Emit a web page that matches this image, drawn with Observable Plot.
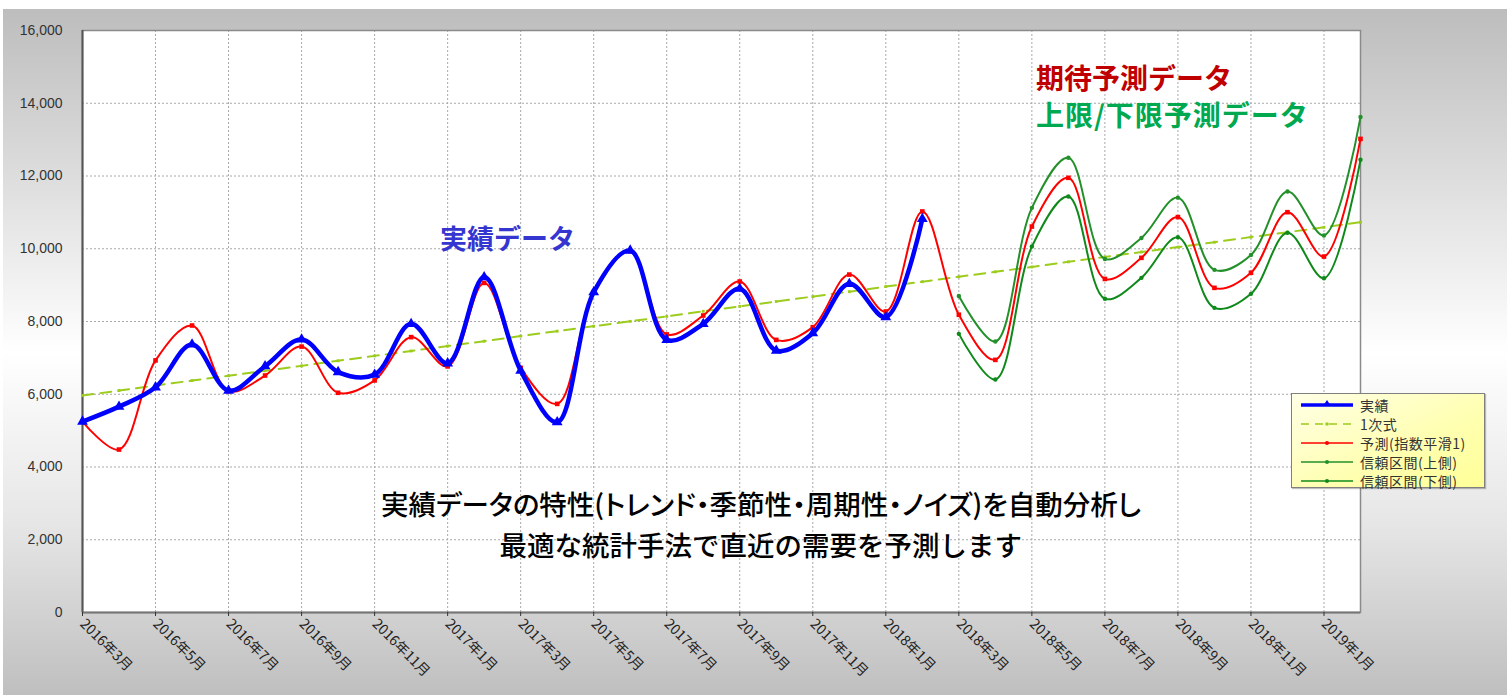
<!DOCTYPE html>
<html>
<head>
<meta charset="utf-8">
<script src="https://cdn.jsdelivr.net/npm/d3@7"></script>
<script src="https://cdn.jsdelivr.net/npm/@observablehq/plot@0.6"></script>
<style>
  body { margin:0; background:#fff; width:1507px; height:695px; overflow:hidden; }
  #wrap { position:absolute; left:3px; top:9px; width:1504px; height:686px;
          background: linear-gradient(to bottom, #bdbdbd 0%, #f4f4f4 42%, #ffffff 50%, #e6e6e6 75%, #bfbfbf 100%); }
  .ann { position:absolute; font-family:"Noto Sans CJK JP", sans-serif; white-space:nowrap; line-height:1; }
  #legend { position:absolute; left:1288px; top:384px; width:194px; height:95px; box-sizing:border-box;
            border:1px solid #808080; background:linear-gradient(to bottom right, #ffffe6 0%, #ffffb0 60%, #ffff98 100%);
            box-shadow:1px 1px 1px rgba(0,0,0,0.25); font-family:"Noto Sans CJK JP", sans-serif; font-size:14px; color:#333; }
  #legend .row { position:absolute; left:0; height:19px; display:flex; align-items:center; }
  #legend svg { margin-left:9px; margin-right:7px; }
  #legend span { letter-spacing:0.5px; }
</style>
</head>
<body>
<div id="wrap"></div>
<script>
// ---- data ----
const months = ["2016年3月","2016年4月","2016年5月","2016年6月","2016年7月","2016年8月","2016年9月","2016年10月","2016年11月","2016年12月",
  "2017年1月","2017年2月","2017年3月","2017年4月","2017年5月","2017年6月","2017年7月","2017年8月","2017年9月","2017年10月","2017年11月","2017年12月",
  "2018年1月","2018年2月","2018年3月","2018年4月","2018年5月","2018年6月","2018年7月","2018年8月","2018年9月","2018年10月","2018年11月","2018年12月",
  "2019年1月","2019年2月"];
const xTickLabels = ["2016年3月","2016年5月","2016年7月","2016年9月","2016年11月","2017年1月","2017年3月","2017年5月","2017年7月",
  "2017年9月","2017年11月","2018年1月","2018年3月","2018年5月","2018年7月","2018年9月","2018年11月","2019年1月"];
const yTicks = [0,2000,4000,6000,8000,10000,12000,14000,16000];

const actual = [5250,5660,6190,7370,6100,6770,7505,6610,6540,7935,6850,9220,6650,5230,8805,9950,7495,7935,8900,7200,7680,9035,8120,10820];
const trend = [5965,6100,6240,6375,6510,6645,6780,6920,7055,7190,7325,7460,7600,7735,7870,8005,8140,8280,8415,8550,8685,8820,8960,9095,
  9230,9365,9500,9640,9775,9910,10045,10180,10320,10455,10590,10730];
const forecast = [5250,4480,6930,7890,6085,6515,7310,6040,6380,7570,6765,9060,6725,5735,8805,9935,7645,8165,9100,7495,7845,9290,8275,11025,
  8185,6945,10610,11950,9170,9750,10870,8925,9340,11005,9785,13020];
const upperMonths = ["2018年3月","2018年4月","2018年5月","2018年6月","2018年7月","2018年8月","2018年9月","2018年10月","2018年11月","2018年12月","2019年1月","2019年2月"];
const upper = [8700,7450,11125,12500,9720,10295,11405,9420,9830,11575,10365,13620];
const lower = [7660,6405,10060,11435,8625,9200,10315,8375,8760,10440,9190,12445];

const legendItems = ["実績","1次式","予測(指数平滑1)","信頼区間(上側)","信頼区間(下側)"];

// ---- tables ----
const actualT = actual.map((v,i)=>({m:months[i], v}));
const trendT = trend.map((v,i)=>({m:months[i], v}));
const forecastT = forecast.map((v,i)=>({m:months[i], v}));
const upperT = upper.map((v,i)=>({m:upperMonths[i], v}));
const lowerT = lower.map((v,i)=>({m:upperMonths[i], v}));

const C = {blue:"#0000ff", trend:"#9ccc1c", red:"#ff0000", up:"#23902a", lo:"#0f8a1a"};

const chart = Plot.plot({
  width:1504, height:686,
  marginLeft:79, marginRight:147, marginTop:21, marginBottom:83,
  style:{background:"transparent", fontFamily:"'Liberation Sans', Arial, sans-serif", color:"#333", overflow:"visible"},
  x:{type:"point", domain:months, padding:0, round:false},
  y:{domain:[0,16000]},
  marks:[
    Plot.frame({fill:"white", stroke:"none"}),
    Plot.gridY(yTicks, {stroke:"#a8a8a8", strokeOpacity:1, strokeDasharray:"2,2"}),
    Plot.gridX(xTickLabels, {stroke:"#a8a8a8", strokeOpacity:1, strokeDasharray:"2,2"}),
    Plot.frame({stroke:"#8a8a8a", strokeWidth:1.5}),
    Plot.ruleX([months[0]], {stroke:"#555", strokeWidth:2}),
    Plot.ruleY([0], {stroke:"#777", strokeWidth:2}),
    Plot.axisY(yTicks, {tickSize:0, tickPadding:20, tickFormat:d3.format(","), fontSize:14, label:null}),
    Plot.axisX(xTickLabels, {tickSize:4, tickRotate:45, textAnchor:"start", fontSize:14, tickPadding:5,
      fontFamily:"'Noto Sans CJK JP', sans-serif", label:null, stroke:"#333", fill:"#222"}),
    // trend
    Plot.line(trendT, {x:"m", y:"v", stroke:C.trend, strokeWidth:2, strokeDasharray:"11,7"}),
    Plot.dot(trendT, {x:"m", y:"v", r:1.6, fill:C.trend, symbol:"square"}),
    // confidence bands
    Plot.line(upperT, {x:"m", y:"v", stroke:C.up, strokeWidth:2, curve:"catmull-rom"}),
    Plot.dot(upperT, {x:"m", y:"v", r:2.2, fill:C.up}),
    Plot.line(lowerT, {x:"m", y:"v", stroke:C.lo, strokeWidth:2, curve:"catmull-rom"}),
    Plot.dot(lowerT, {x:"m", y:"v", r:2.2, fill:C.lo}),
    // forecast
    Plot.line(forecastT, {x:"m", y:"v", stroke:C.red, strokeWidth:2, curve:"catmull-rom"}),
    Plot.dot(forecastT, {x:"m", y:"v", r:2.6, fill:C.red, symbol:"square"}),
    // actual
    Plot.line(actualT, {x:"m", y:"v", stroke:C.blue, strokeWidth:4.5, curve:"catmull-rom"}),
    Plot.dot(actualT, {x:"m", y:"v", r:4, fill:C.blue, symbol:"triangle"})
  ]
});
const wrap = document.getElementById("wrap");
wrap.appendChild(chart);

function ann(text, left, top, css){
  const d = document.createElement("div");
  d.className = "ann"; d.textContent = text;
  d.style.left = left+"px"; d.style.top = top+"px";
  Object.assign(d.style, css);
  wrap.appendChild(d);
  return d;
}
ann("実績データ", 437, 215, {fontSize:"27px", fontWeight:"700", color:"#3535d0"});
ann("期待予測データ", 1033, 54, {fontSize:"28px", fontWeight:"700", color:"#c00000"});
ann("上限/下限予測データ", 1033, 91, {fontSize:"28px", fontWeight:"700", color:"#00a84f", letterSpacing:"1px"});
const l1 = ann("実績データの特性(トレンド・季節性・周期性・ノイズ)を自動分析し", 0, 481, {fontSize:"27.5px", fontWeight:"500", color:"#000", fontFeatureSettings:"'palt'"});
const l2 = ann("最適な統計手法で直近の需要を予測します", 0, 522, {fontSize:"27.5px", fontWeight:"500", color:"#000"});
[l1,l2].forEach(d=>{ d.style.left = (758 - d.offsetWidth/2) + "px"; });

// legend
const lg = document.createElement("div"); lg.id = "legend"; wrap.appendChild(lg);
const styles = [
  {c:C.blue, w:3.5, dash:null, mk:"tri"},
  {c:C.trend, w:1.5, dash:"8,6", mk:"sq"},
  {c:C.red, w:1.5, dash:null, mk:"dot"},
  {c:C.up, w:1.5, dash:null, mk:"dot"},
  {c:C.lo, w:1.5, dash:null, mk:"dot"}
];
legendItems.forEach((t,i)=>{
  const s = styles[i];
  const row = document.createElement("div"); row.className = "row"; row.style.top = (1 + i*19) + "px";
  let mk = s.mk==="tri" ? `<path d="M26,3 L30,9 L22,9 Z" fill="${s.c}"/>` :
           s.mk==="sq" ? `<rect x="24.5" y="6.5" width="3" height="3" fill="${s.c}"/>` :
           `<circle cx="26" cy="8" r="2" fill="${s.c}"/>`;
  row.innerHTML = `<svg width="52" height="16"><line x1="0" y1="8" x2="52" y2="8" stroke="${s.c}" stroke-width="${s.w}" ${s.dash?`stroke-dasharray="${s.dash}"`:""}/>${mk}</svg><span>${t}</span>`;
  lg.appendChild(row);
});
</script>
</body>
</html>
